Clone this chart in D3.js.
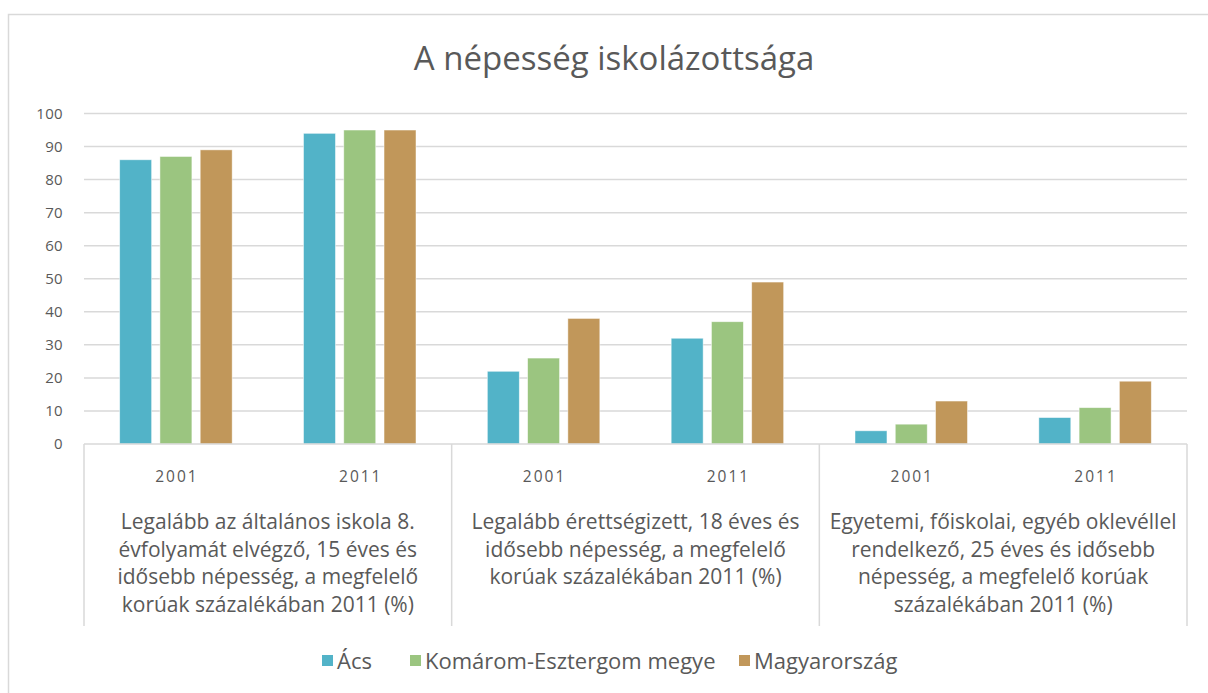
<!DOCTYPE html>
<html>
<head>
<meta charset="utf-8">
<script src="https://cdn.jsdelivr.net/npm/d3@7"></script>
<style>
  body { margin: 0; background: #fff; }
  text { font-family: "Open Sans", Lato, sans-serif; fill: #595959; }
</style>
</head>
<body>
<div id="chart-area"></div>
<script>
// data
var groups = [
  ['Legalább az általános iskola 8.', 'évfolyamát elvégző, 15 éves és', 'idősebb népesség, a megfelelő', 'korúak százalékában 2011 (%)'],
  ['Legalább érettségizett, 18 éves és', 'idősebb népesség, a megfelelő', 'korúak százalékában 2011 (%)'],
  ['Egyetemi, főiskolai, egyéb oklevéllel', 'rendelkező, 25 éves és idősebb', 'népesség, a megfelelő korúak', 'százalékában 2011 (%)']
];
var years = ['2001', '2011'];
var seriesNames = ['Ács', 'Komárom-Esztergom megye', 'Magyarország'];
var acs = [86, 94, 22, 32, 4, 8];
var komarom = [87, 95, 26, 37, 6, 11];
var magyar = [89, 95, 38, 49, 13, 19];
var yTicks = [0, 10, 20, 30, 40, 50, 60, 70, 80, 90, 100];
var colors = ['#52b3c8', '#9bc580', '#c1975a'];

var W = 1208, H = 693;
var plot = { left: 84, right: 1187, top: 113.5, bottom: 444 };

var svg = d3.select('#chart-area')
  .append('svg')
    .attr('width', W)
    .attr('height', H);

// chart frame
svg.append('rect')
  .attr('x', 8.5).attr('y', 14.5)
  .attr('width', W + 10).attr('height', H + 10)
  .attr('fill', 'none')
  .attr('stroke', '#d9d9d9')
  .attr('stroke-width', 1.5);

// title
svg.append('text')
  .attr('x', 614).attr('y', 70)
  .attr('text-anchor', 'middle')
  .attr('font-size', '33px')
  .text('A népesség iskolázottsága');

// categories: one per (group, year)
var cats = [];
groups.forEach((g, i) => {
  years.forEach((yr) => { cats.push(i + '-' + yr); });
});

var x = d3.scaleBand()
  .domain(cats)
  .range([plot.left, plot.right]);

var y = d3.scaleLinear()
  .domain([0, 100])
  .range([plot.bottom, plot.top]);

// gridlines
svg.append('g')
  .selectAll('line')
  .data(yTicks.filter((d) => d > 0))
  .enter().append('line')
    .attr('x1', plot.left).attr('x2', plot.right)
    .attr('y1', (d) => y(d)).attr('y2', (d) => y(d))
    .attr('stroke', '#d9d9d9')
    .attr('stroke-width', 1.5);

// y labels
var yAxis = d3.axisLeft(y).tickValues(yTicks).tickSize(0).tickPadding(21);
var yAxisGroup = svg.append('g')
  .attr('transform', 'translate(' + plot.left + ',0)')
  .call(yAxis);
yAxisGroup.select('.domain').remove();
yAxisGroup.selectAll('text')
  .attr('font-size', '15px')
  .attr('font-family', '"Open Sans", sans-serif')
  .attr('fill', '#595959')
  .attr('letter-spacing', '0.3px');

// bars
var series = [acs, komarom, magyar];
var cw = x.bandwidth();
var barW = cw * 32 / 184;
var gap = cw * 8.3 / 184;
var inner = d3.scaleBand()
  .domain(d3.range(3))
  .range([0, 3 * barW + 2 * gap]);

series.forEach((vals, s) => {
  svg.append('g')
    .selectAll('rect')
    .data(vals)
    .enter().append('rect')
      .attr('x', (d, i) => x(cats[i]) + (cw - inner.range()[1]) / 2 + s * (barW + gap))
      .attr('y', (d) => y(d))
      .attr('width', barW)
      .attr('height', (d) => y(0) - y(d))
      .attr('fill', colors[s])
      .attr('stroke', '#fff')
      .attr('stroke-opacity', 0.6)
      .attr('stroke-width', 0.8);
});

// x axis line and group separators
svg.append('line')
  .attr('x1', plot.left).attr('x2', plot.right)
  .attr('y1', plot.bottom).attr('y2', plot.bottom)
  .attr('stroke', '#d9d9d9').attr('stroke-width', 1.5);

var sepX = [0, 2, 4].map((i) => x(cats[i])).concat([plot.right]);
svg.append('g')
  .selectAll('line')
  .data(sepX)
  .enter().append('line')
    .attr('x1', (d) => d).attr('x2', (d) => d)
    .attr('y1', plot.bottom).attr('y2', 626)
    .attr('stroke', '#d9d9d9').attr('stroke-width', 1.5);

// year labels
svg.append('g')
  .selectAll('text')
  .data(cats)
  .enter().append('text')
    .attr('x', (d) => x(d) + cw / 2 + 1)
    .attr('y', 482)
    .attr('text-anchor', 'middle')
    .attr('font-size', '15.5px')
    .attr('letter-spacing', '2px')
    .text((d) => d.split('-')[1]);

// group labels
groups.forEach((lines, i) => {
  var cx = x(cats[i * 2]) + cw;
  var t = svg.append('text')
    .attr('text-anchor', 'middle')
    .attr('font-size', '21px');
  lines.forEach((ln, j) => {
    t.append('tspan')
      .attr('x', cx)
      .attr('y', 529 + j * 27.5)
      .text(ln);
  });
});

// legend
var legendItems = [
  { x: 322, name: seriesNames[0] },
  { x: 410, name: seriesNames[1] },
  { x: 739, name: seriesNames[2] }
];
var legend = svg.append('g');
legendItems.forEach((it, i) => {
  legend.append('rect')
    .attr('x', it.x).attr('y', 655)
    .attr('width', 11).attr('height', 11)
    .attr('fill', colors[i]);
  legend.append('text')
    .attr('x', it.x + 15).attr('y', 669)
    .attr('font-size', '22px')
    .text(it.name);
});
</script>
</body>
</html>
